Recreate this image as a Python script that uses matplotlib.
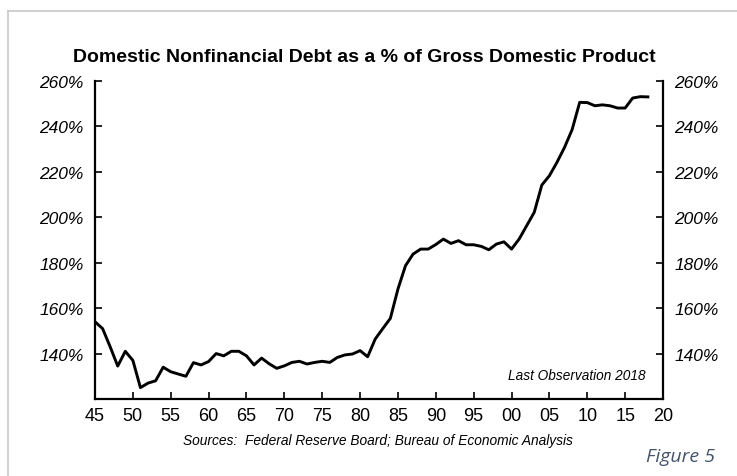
import matplotlib.pyplot as plt
from matplotlib.lines import Line2D
from matplotlib import font_manager

# Domestic nonfinancial debt as % of GDP, annual 1945-2018
years = list(range(1945, 2019))
debt_pct = [
    154.0, 151.0, 143.0, 134.5, 141.0, 137.0, 125.0, 127.0, 128.0, 134.0,  # 1945-54
    132.0, 131.0, 130.0, 136.0, 135.0, 136.5, 140.0, 139.0, 141.0, 141.0,  # 1955-64
    139.0, 135.0, 138.0, 135.5, 133.5, 134.6, 136.1, 136.6, 135.4, 136.1,  # 1965-74
    136.6, 136.1, 138.3, 139.4, 139.8, 141.3, 138.6, 146.4, 151.0, 155.5,  # 1975-84
    168.4, 178.7, 183.8, 186.0, 186.0, 188.0, 190.4, 188.5, 189.7, 187.9,  # 1985-94
    187.9, 187.2, 185.7, 188.2, 189.2, 186.0, 190.4, 196.3, 202.2, 214.2,  # 1995-04
    218.3, 224.2, 230.8, 238.6, 250.6, 250.5, 249.1, 249.5, 249.1, 248.1,  # 2005-14
    248.1, 252.5, 253.1, 253.0,                                            # 2015-18
]

xtick_years = list(range(1945, 2021, 5))
ytick_vals = [140, 160, 180, 200, 220, 240, 260]

plt.rcParams['font.family'] = ['Liberation Sans', 'DejaVu Sans']

# condensed face for the title if it is there
names = {f.name for f in font_manager.fontManager.ttflist}
if 'Liberation Sans Narrow' in names:
    title_font, title_size = 'Liberation Sans Narrow', 16.5
else:
    title_font, title_size = 'Liberation Sans', 14.0

fig = plt.figure(figsize=(7.37, 4.77), dpi=100)
ax = fig.add_axes([95 / 737, 1 - 400 / 477, (663 - 95) / 737, (400 - 82) / 477])

ax.plot(years, debt_pct, color='black', linewidth=2.1, solid_joinstyle='round')

ax.set_xlim(1945, 2020)
ax.set_ylim(120, 260)

# axis frame: left, right, bottom only
ax.spines['top'].set_visible(False)
for side in ('left', 'right', 'bottom'):
    ax.spines[side].set_linewidth(1.6)

ax.set_xticks(xtick_years)
ax.set_xticklabels([f'{y % 100:02d}' for y in xtick_years], fontsize=13)
ax.set_yticks(ytick_vals)
ax.set_yticklabels([f'{v}%' for v in ytick_vals], fontsize=12.5, style='italic')
ax.tick_params(axis='both', direction='in', length=5, width=1.2)
ax.tick_params(axis='y', left=True, right=True, labelleft=True, labelright=True, pad=8)
ax.tick_params(axis='x', pad=6)
# hide the ticks that sit on the corners
for t in (ax.xaxis.get_major_ticks()[0], ax.xaxis.get_major_ticks()[-1]):
    t.tick1line.set_visible(False)

ax.text(0.97, 0.055, 'Last Observation 2018', transform=ax.transAxes,
        ha='right', va='bottom', fontsize=9.8, style='italic')

fig.text(364 / 737, 1 - 58 / 477, 'Domestic Nonfinancial Debt as a % of Gross Domestic Product',
         ha='center', va='center', fontsize=title_size, fontweight='bold',
         family=[title_font, 'DejaVu Sans'])
fig.text(378 / 737, 1 - 441 / 477, 'Sources:  Federal Reserve Board; Bureau of Economic Analysis',
         ha='center', va='center', fontsize=9.9, style='italic')
fig.text(715 / 737, 1 - 457 / 477, 'Figure 5', ha='right', va='center',
         fontsize=14, style='italic', color='#44546a', family=['Open Sans', 'DejaVu Sans'])

# light grey page border (top and left edges)
fig.add_artist(Line2D([8 / 737, 1], [1 - 12 / 477, 1 - 12 / 477], color='#c8c8c8', lw=1.2))
fig.add_artist(Line2D([8 / 737, 8 / 737], [0, 1 - 12 / 477], color='#c8c8c8', lw=1.2))

fig.savefig('out.png', dpi=100)
